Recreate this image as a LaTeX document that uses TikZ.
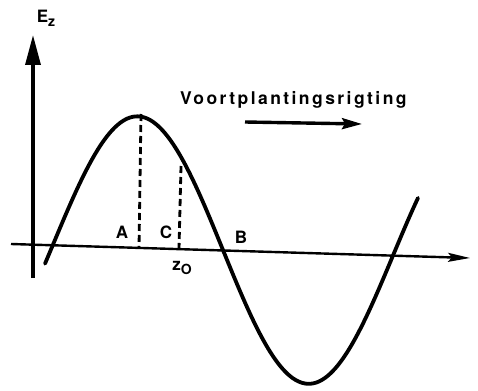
\documentclass[tikz,border=0pt]{standalone}
\usepackage{fontspec}
\setmainfont{TeX Gyre Heros}
\usetikzlibrary{arrows.meta}
\begin{document}
\begin{tikzpicture}[x=1pt,y=-1pt,
  axis/.style={line width=3.4pt},
  wave/.style={line width=3.8pt,line cap=round},
  drop/.style={line width=2.8pt,dash pattern=on 7pt off 4pt},
  lbl/.style={font=\fontsize{17}{20}\selectfont\bfseries,inner sep=0pt}]
\useasboundingbox (0,0) rectangle (478,390);
% axes
\coordinate (vbot) at (33,278);
\coordinate (vtop) at (33,35);
\coordinate (hl) at (11,244);
\coordinate (hr) at (470,258);
\draw[axis,-{Triangle[length=30pt,width=15pt]}] (vbot) -- (vtop);
\draw[line width=2.4pt,-{Stealth[length=22pt,width=9pt,inset=4pt]}] (hl) -- (hr);
% wave
\draw[wave,domain=45:418,samples=150,smooth]
  plot (\x,{244+0.032*(\x-33)-131*sin((\x-53)/170*180)});
% dashed drops
\coordinate (Atop) at (141,114);
\coordinate (Abot) at (139,248);
\coordinate (Ctop) at (181,166);
\coordinate (Cbot) at (179,249);
\draw[drop] (Atop) -- (Abot);
\draw[drop] (Ctop) -- (Cbot);
% labels
\node[lbl] (Ez) at (46,18) {E\raisebox{-4pt}{\fontsize{14}{16}\selectfont z}};
\node[lbl] (A) at (122,232) {A};
\node[lbl] (C) at (166,232) {C};
\node[lbl] (B) at (241,237) {B};
\node[lbl] (z0) at (182,268) {z\raisebox{-4pt}{\fontsize{14}{16}\selectfont O}};
\node[lbl,anchor=west,font=\fontsize{17.5}{20}\selectfont\bfseries\addfontfeature{LetterSpace=14}] (title) at (180,100) {Voortplantingsrigting};
% propagation arrow
\coordinate (pa) at (245,122);
\coordinate (pb) at (362,124);
\draw[line width=3.4pt,-{Stealth[length=20pt,width=11pt,inset=3pt]}] (pa) -- (pb);
\end{tikzpicture}
\end{document}
